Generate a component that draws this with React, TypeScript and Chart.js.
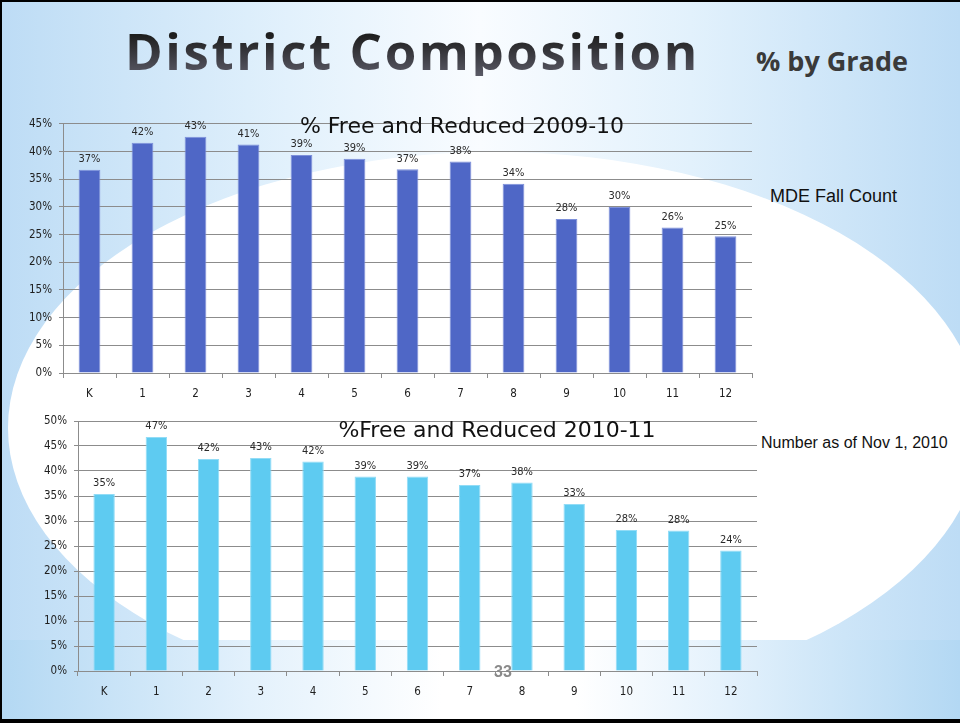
import React, { useEffect, useRef } from "react";
import { Chart, registerables } from "chart.js";

Chart.register(...registerables);

const grades = ["K", "1", "2", "3", "4", "5", "6", "7", "8", "9", "10", "11", "12"];
const pct2009 = [36.7, 41.6, 42.7, 41.3, 39.4, 38.7, 36.8, 38.2, 34.2, 27.8, 30.0, 26.3, 24.7];
const pct2010 = [35.4, 46.8, 42.4, 42.6, 41.9, 38.9, 38.9, 37.2, 37.7, 33.4, 28.2, 28.1, 24.1];
const title2009 = "% Free and Reduced 2009-10";
const title2010 = "%Free and Reduced 2010-11";
const yMax2009 = 45;
const yMax2010 = 50;
const yStep = 5;

const SMALL_FAMILY = "'DejaVu Sans Condensed', 'DejaVu Sans', sans-serif";

type BarProps = {
  labels: string[];
  values: number[];
  title: string;
  yMax: number;
  color: string;
  border: string;
  left: number;
  top: number;
  width: number;
  height: number;
  pad: { top: number; right: number; bottom: number; left: number };
  yWidth: number;
  xHeight: number;
  titleX: number;
  titleY: number;
};

function BarChart(p: BarProps) {
  const ref = useRef<HTMLCanvasElement>(null);
  useEffect(() => {
    const canvas = ref.current;
    if (!canvas) return;
    const valueLabels = {
      id: "valueLabels",
      afterDatasetsDraw(chart: any) {
        const c = chart.ctx;
        const meta = chart.getDatasetMeta(0);
        c.save();
        c.font = `11px ${SMALL_FAMILY}`;
        c.fillStyle = "#2a2a2a";
        c.textAlign = "center";
        c.textBaseline = "bottom";
        meta.data.forEach((bar: any, i: number) => {
          c.fillText(Math.round(p.values[i]) + "%", bar.x, bar.y - 5);
        });
        c.restore();
      },
    };
    const overlayTitle = {
      id: "overlayTitle",
      afterDraw(chart: any) {
        const c = chart.ctx;
        c.save();
        c.font = "22px 'DejaVu Sans', sans-serif";
        c.fillStyle = "#111";
        c.textAlign = "center";
        c.textBaseline = "alphabetic";
        c.fillText(p.title, p.titleX, p.titleY);
        c.restore();
      },
    };
    const chart = new Chart(canvas, {
      type: "bar",
      data: {
        labels: p.labels,
        datasets: [
          {
            data: p.values,
            backgroundColor: p.color,
            borderColor: p.border,
            borderWidth: 1,
            barPercentage: 0.41,
            categoryPercentage: 1,
          },
        ],
      },
      options: {
        responsive: false,
        maintainAspectRatio: false,
        animation: false,
        layout: { padding: p.pad },
        plugins: {
          legend: { display: false },
          tooltip: { enabled: false },
          title: { display: false },
        },
        scales: {
          x: {
            offset: true,
            grid: {
              display: true,
              drawOnChartArea: false,
              drawTicks: true,
              tickLength: 5,
              color: "#8c8c8c",
              offset: true,
            },
            border: { color: "#8c8c8c" },
            ticks: {
              color: "#1e1e1e",
              font: { family: SMALL_FAMILY, size: 11.5 },
              padding: 9,
              autoSkip: false,
              maxRotation: 0,
            },
            afterFit: (s: any) => {
              s.height = p.xHeight;
            },
          },
          y: {
            min: 0,
            max: p.yMax,
            ticks: {
              stepSize: yStep,
              callback: (v: any) => v + "%",
              color: "#1e1e1e",
              font: { family: SMALL_FAMILY, size: 11.5 },
              padding: 7,
            },
            grid: { color: "#8c8c8c", tickLength: 4 },
            border: { color: "#8c8c8c" },
            afterFit: (s: any) => {
              s.width = p.yWidth;
            },
          },
        },
      },
      plugins: [valueLabels, overlayTitle],
    } as any);
    return () => chart.destroy();
  }, []);
  return (
    <canvas
      ref={ref}
      width={p.width}
      height={p.height}
      style={{ position: "absolute", left: p.left, top: p.top, width: p.width, height: p.height }}
    />
  );
}

export default function App() {
  return (
    <div
      style={{
        position: "absolute",
        left: 0,
        top: 0,
        width: 960,
        height: 723,
        overflow: "hidden",
        background:
          "linear-gradient(to right, #bddcf5 0%, #e2f1fc 30%, #f9fcff 50%, #e2f1fc 72%, #bddcf5 100%)",
      }}
    >
      <div
        style={{
          position: "absolute",
          left: 495 - 487,
          top: 428 - 276,
          width: 974,
          height: 552,
          borderRadius: "50%",
          background: "#ffffff",
        }}
      />
      <div
        style={{
          position: "absolute",
          left: 0,
          top: 640,
          width: 960,
          height: 83,
          background:
            "linear-gradient(to right, #b3d8f3 0%, #e3f1fc 26%, #ffffff 46%, #ffffff 60%, #e3f1fc 76%, #b3d8f3 100%)",
        }}
      />
      <div
        style={{
          position: "absolute",
          left: 125,
          top: 25,
          fontFamily: "'Open Sans', sans-serif",
          fontWeight: 700,
          fontSize: 51,
          lineHeight: 1,
          letterSpacing: 2.6,
          whiteSpace: "nowrap",
          backgroundImage: "linear-gradient(to bottom, #1e1e1e 20%, #5a5a66 100%)",
          WebkitBackgroundClip: "text",
          backgroundClip: "text",
          color: "transparent",
        }}
      >
        District Composition
      </div>
      <div
        style={{
          position: "absolute",
          left: 756,
          top: 47,
          fontFamily: "'Open Sans', sans-serif",
          fontWeight: 700,
          fontSize: 27,
          lineHeight: 1,
          whiteSpace: "nowrap",
          color: "#3a3a3a",
        }}
      >
        % by Grade
      </div>
      <div
        style={{
          position: "absolute",
          left: 770,
          top: 187,
          fontFamily: "'Liberation Sans', Arial, sans-serif",
          fontSize: 18,
          lineHeight: 1,
          whiteSpace: "nowrap",
          color: "#111",
        }}
      >
        MDE Fall Count
      </div>
      <div
        style={{
          position: "absolute",
          left: 761,
          top: 435,
          fontFamily: "'Liberation Sans', Arial, sans-serif",
          fontSize: 16,
          lineHeight: 1,
          whiteSpace: "nowrap",
          color: "#111",
        }}
      >
        Number as of Nov 1, 2010
      </div>
      <BarChart
        labels={grades}
        values={pct2009}
        title={title2009}
        yMax={yMax2009}
        color="#4f67c6"
        border="#7d90da"
        left={0}
        top={110}
        width={770}
        height={300}
        pad={{ top: 13, right: 18, bottom: 7, left: 0 }}
        yWidth={63}
        xHeight={30}
        titleX={462}
        titleY={23}
      />
      <BarChart
        labels={grades}
        values={pct2010}
        title={title2010}
        yMax={yMax2010}
        color="#5ecbf1"
        border="#92dcf6"
        left={0}
        top={405}
        width={780}
        height={300}
        pad={{ top: 16, right: 23, bottom: 6, left: 0 }}
        yWidth={78}
        xHeight={28}
        titleX={497}
        titleY={32}
      />
      <div
        style={{
          position: "absolute",
          left: 494,
          top: 664,
          fontFamily: "'Liberation Sans', Arial, sans-serif",
          fontWeight: 700,
          fontSize: 16,
          lineHeight: 1,
          color: "#8a8a8a",
        }}
      >
        33
      </div>
      <div
        style={{
          position: "absolute",
          left: 0,
          top: 0,
          width: 960,
          height: 723,
          boxSizing: "border-box",
          borderTop: "2px solid #000",
          borderLeft: "2px solid #000",
          borderBottom: "4px solid #000",
          pointerEvents: "none",
        }}
      />
    </div>
  );
}
